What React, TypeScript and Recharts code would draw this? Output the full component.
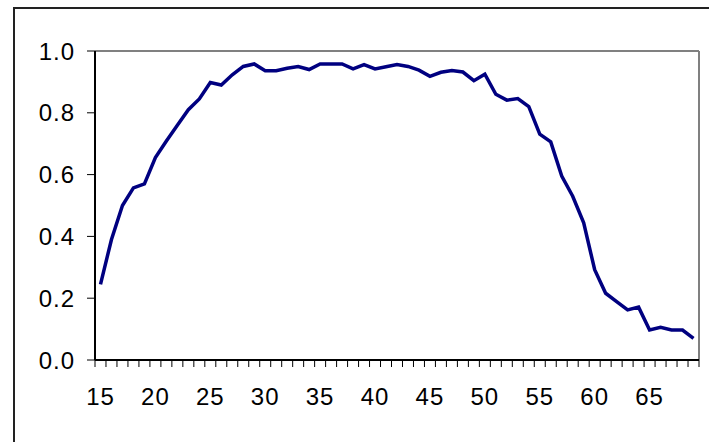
import { LineChart, Line, XAxis, YAxis, ReferenceLine } from "recharts";

const ages = [
  15, 16, 17, 18, 19, 20, 21, 22, 23, 24, 25, 26, 27, 28, 29, 30, 31, 32, 33,
  34, 35, 36, 37, 38, 39, 40, 41, 42, 43, 44, 45, 46, 47, 48, 49, 50, 51, 52,
  53, 54, 55, 56, 57, 58, 59, 60, 61, 62, 63, 64, 65, 66, 67, 68, 69,
];

const rates = [
  0.245, 0.39, 0.5, 0.557, 0.57, 0.655, 0.709, 0.76, 0.81, 0.845, 0.898, 0.89,
  0.923, 0.95, 0.958, 0.936, 0.936, 0.944, 0.95, 0.94, 0.958, 0.958, 0.958,
  0.942, 0.956, 0.942, 0.949, 0.956, 0.95, 0.938, 0.918, 0.931, 0.937, 0.932,
  0.904, 0.925, 0.86, 0.841, 0.846, 0.82, 0.731, 0.706, 0.595, 0.53, 0.444,
  0.292, 0.216, 0.189, 0.162, 0.171, 0.097, 0.106, 0.097, 0.097, 0.07,
];

const xLabels = [15, 20, 25, 30, 35, 40, 45, 50, 55, 60, 65];
const yTicks = [0, 0.2, 0.4, 0.6, 0.8, 1.0];

const data = ages.map((age, i) => ({ age, rate: rates[i] }));

// tick marks sit between categories, like an Excel category axis
const lo = ages[0] - 0.5;
const hi = ages[ages.length - 1] + 0.5;
const boundaries = [...ages.map((a) => a - 0.5), hi];

const FONT = "'Liberation Sans', Arial, sans-serif";
const font = { fontFamily: FONT, fontSize: 24, fill: "#000", letterSpacing: 1 };
const Y_AXIS_W = 95;

function YTick(p: any) {
  return (
    <g>
      <line x1={Y_AXIS_W - 8} x2={Y_AXIS_W} y1={p.y} y2={p.y} stroke="#000" strokeWidth={1} />
      <text
        x={Y_AXIS_W - 20}
        y={p.y}
        dy="0.355em"
        textAnchor="end"
        fontFamily={FONT}
        fontSize={24}
        letterSpacing={1}
        fill="#000"
      >
        {Number(p.payload.value).toFixed(1)}
      </text>
    </g>
  );
}

export default function App() {
  return (
    <div
      style={{
        position: "absolute",
        left: 0,
        top: 0,
        width: 709,
        height: 442,
        background: "#fff",
        overflow: "hidden",
      }}
    >
      <div
        style={{
          position: "absolute",
          left: 13,
          top: 7,
          width: 720,
          height: 460,
          borderLeft: "2px solid #222",
          borderTop: "2px solid #222",
        }}
      />
      <div style={{ position: "absolute", left: 0, top: 0 }}>
        <LineChart
          width={709}
          height={442}
          data={data}
          margin={{ top: 51, right: 10, left: 0, bottom: 32 }}
        >
          <XAxis
            xAxisId="b"
            dataKey="age"
            type="number"
            domain={[lo, hi]}
            ticks={xLabels}
            axisLine={false}
            tickLine={false}
            tickSize={0}
            tickMargin={20}
            height={42}
            tick={font}
            interval={0}
          />
          <XAxis
            xAxisId="a"
            dataKey="age"
            type="number"
            domain={[lo, hi]}
            ticks={boundaries}
            interval={0}
            tick={() => <g />}
            tickSize={7}
            height={8}
            stroke="#000"
            strokeWidth={2}
            axisLine={true}
            tickLine={{ stroke: "#000", strokeWidth: 1 }}
          />
          <YAxis
            domain={[0, 1]}
            ticks={yTicks}
            tick={YTick}
            tickLine={false}
            width={Y_AXIS_W}
            interval={0}
            stroke="#000"
            strokeWidth={2}
            axisLine={true}
          />
          <ReferenceLine xAxisId="a" y={1} stroke="#808080" strokeWidth={2} />
          <ReferenceLine xAxisId="a" x={hi} stroke="#808080" strokeWidth={2} />
          <Line
            xAxisId="a"
            type="linear"
            dataKey="rate"
            stroke="#000080"
            strokeWidth={3.5}
            dot={false}
            isAnimationActive={false}
          />
        </LineChart>
      </div>
    </div>
  );
}
